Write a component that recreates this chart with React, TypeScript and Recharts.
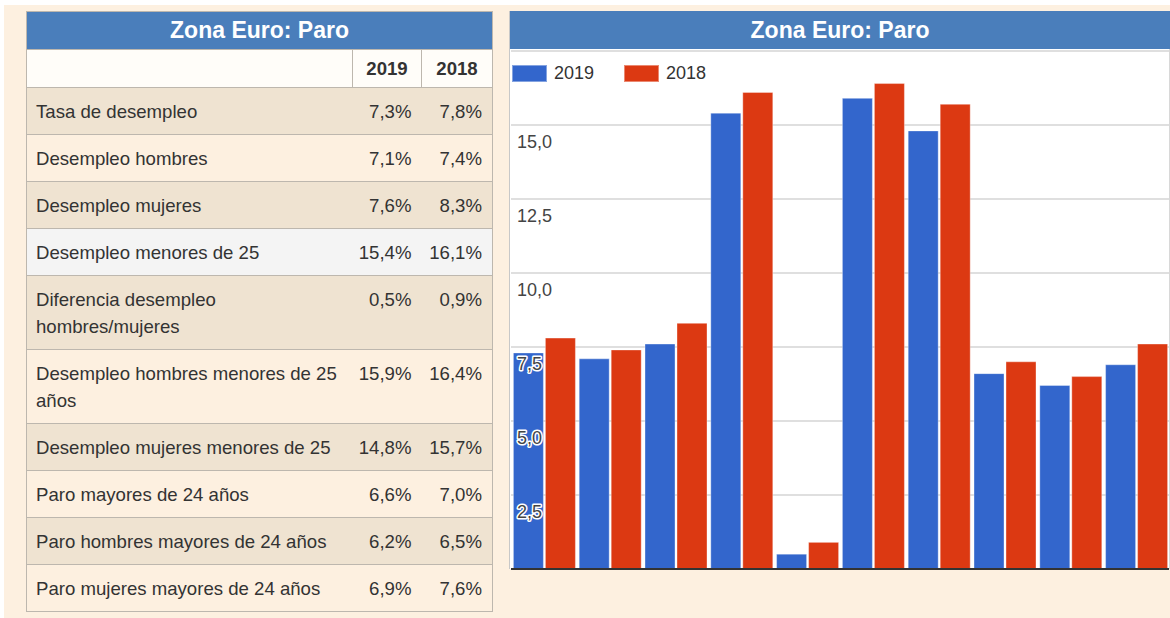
import React from 'react';
import { BarChart, Bar, XAxis, YAxis, CartesianGrid } from 'recharts';

const categories = [
  'Tasa de desempleo',
  'Desempleo hombres',
  'Desempleo mujeres',
  'Desempleo menores de 25',
  'Diferencia desempleo hombres/mujeres',
  'Desempleo hombres menores de 25 años',
  'Desempleo mujeres menores de 25',
  'Paro mayores de 24 años',
  'Paro hombres mayores de 24 años',
  'Paro mujeres mayores de 24 años',
];
const values2019 = [7.3, 7.1, 7.6, 15.4, 0.5, 15.9, 14.8, 6.6, 6.2, 6.9];
const values2018 = [7.8, 7.4, 8.3, 16.1, 0.9, 16.4, 15.7, 7.0, 6.5, 7.6];
const seriesNames = ['2019', '2018'];
const seriesColors = ['#3366cc', '#dc3912'];
const yTicks = [0, 2.5, 5, 7.5, 10, 12.5, 15, 17.5];
const title = 'Zona Euro: Paro';

const FONT = '"Liberation Sans", Arial, sans-serif';
const BLUE_HEAD = '#4a7ebb';
const CREAM = '#fdf0e0';
const BEIGE = '#efe3d1';
const HOVER = '#f4f4f4';
const BORDER = '#bdb7ae';

const data = categories.map((name, i) => ({
  name,
  v2019: values2019[i],
  v2018: values2018[i],
}));

const fmt = (v: number) => v.toFixed(1).replace('.', ',');

function YTick(props: any) {
  const { y, payload } = props;
  if (payload.value === 0 || payload.value === 17.5) return null;
  return (
    <text
      x={7}
      y={y + 23}
      fontFamily={FONT}
      fontSize={18}
      fill="#444"
      stroke="#fff"
      strokeWidth={3}
      strokeLinejoin="round"
      paintOrder="stroke"
    >
      {fmt(payload.value)}
    </text>
  );
}

function DataTable() {
  const cellBase: React.CSSProperties = {
    padding: '10px 10px 9px 9px',
    lineHeight: '27px',
    fontSize: 18.6,
    color: '#333',
    borderTop: `1px solid ${BORDER}`,
    verticalAlign: 'top',
  };
  return (
    <table
      style={{
        position: 'absolute',
        left: 26,
        top: 11,
        width: 466,
        borderCollapse: 'collapse',
        tableLayout: 'fixed',
        fontFamily: FONT,
        border: `1px solid ${BORDER}`,
      }}
    >
      <colgroup>
        <col style={{ width: 326 }} />
        <col style={{ width: 69 }} />
        <col style={{ width: 71 }} />
      </colgroup>
      <thead>
        <tr>
          <th
            colSpan={3}
            style={{
              background: BLUE_HEAD,
              color: '#fff',
              fontSize: 23,
              fontWeight: 'bold',
              lineHeight: '37px',
              padding: 0,
              textAlign: 'center',
            }}
          >
            {title}
          </th>
        </tr>
        <tr style={{ background: '#fffdf9' }}>
          <th style={{ border: `1px solid ${BORDER}`, padding: '5px 0', lineHeight: '27px' }}></th>
          {seriesNames.map((s) => (
            <th
              key={s}
              style={{
                border: `1px solid ${BORDER}`,
                padding: '5px 0',
                lineHeight: '27px',
                fontSize: 18.6,
                fontWeight: 'bold',
                color: '#333',
                textAlign: 'center',
              }}
            >
              {s}
            </th>
          ))}
        </tr>
      </thead>
      <tbody>
        {categories.map((c, i) => {
          const bg = i === 3 ? HOVER : i % 2 === 0 ? BEIGE : CREAM;
          return (
            <tr key={c} style={{ background: bg }}>
              <td style={{ ...cellBase, paddingRight: 4 }}>{c}</td>
              <td style={{ ...cellBase, textAlign: 'right', paddingLeft: 0 }}>{fmt(values2019[i])}%</td>
              <td style={{ ...cellBase, textAlign: 'right', paddingLeft: 0 }}>{fmt(values2018[i])}%</td>
            </tr>
          );
        })}
      </tbody>
    </table>
  );
}

function ChartPanel() {
  return (
    <>
      <div
        style={{
          position: 'absolute',
          left: 509,
          top: 11,
          width: 659,
          height: 558,
          background: '#fff',
          borderLeft: '1px solid #c8c8c8',
          borderRight: '1px solid #d8d8d8',
        }}
      />
      <div
        style={{
          position: 'absolute',
          left: 510,
          top: 11,
          width: 660,
          height: 38,
          background: BLUE_HEAD,
          color: '#fff',
          fontFamily: FONT,
          fontWeight: 'bold',
          fontSize: 23,
          lineHeight: '38px',
          textAlign: 'center',
        }}
      >
        {title}
      </div>
      <div style={{ position: 'absolute', left: 510, top: 49 }}>
        <BarChart
          width={660}
          height={522}
          data={data}
          margin={{ top: 2, right: 1, bottom: 1, left: 0 }}
          barCategoryGap={2.4}
          barGap={2}
        >
          <CartesianGrid vertical={false} stroke="#d4d4d4" strokeWidth={1.5} />
          <XAxis dataKey="name" tick={false} height={1} tickLine={false} axisLine={{ stroke: '#333', strokeWidth: 2 }} />
          <Bar dataKey="v2019" name={seriesNames[0]} fill={seriesColors[0]} stroke="rgba(255,255,255,0.35)" strokeWidth={1} isAnimationActive={false} />
          <Bar dataKey="v2018" name={seriesNames[1]} fill={seriesColors[1]} stroke="rgba(255,255,255,0.35)" strokeWidth={1} isAnimationActive={false} />
          <YAxis
            width={1}
            domain={[0, 17.5]}
            ticks={yTicks}
            interval={0}
            axisLine={false}
            tickLine={false}
            tick={(p: any) => <YTick {...p} />}
          />
        </BarChart>
      </div>
      <div
        style={{
          position: 'absolute',
          left: 512,
          top: 63,
          display: 'flex',
          alignItems: 'center',
          fontFamily: FONT,
          fontSize: 18,
          color: '#333',
        }}
      >
        {seriesNames.map((s, i) => (
          <div key={s} style={{ display: 'flex', alignItems: 'center', marginRight: 30 }}>
            <div
              style={{
                width: 35,
                height: 17,
                background: seriesColors[i],
                boxSizing: 'border-box',
                border: '1px solid rgba(255,255,255,0.4)',
                marginRight: 7,
              }}
            />
            <span>{s}</span>
          </div>
        ))}
      </div>
    </>
  );
}

export default function App() {
  return (
    <div style={{ position: 'absolute', left: 0, top: 0, width: 1170, height: 618, background: '#fff', overflow: 'hidden' }}>
      <div style={{ position: 'absolute', left: 4, top: 5, width: 1166, height: 613, background: CREAM }} />
      <DataTable />
      <ChartPanel />
    </div>
  );
}
